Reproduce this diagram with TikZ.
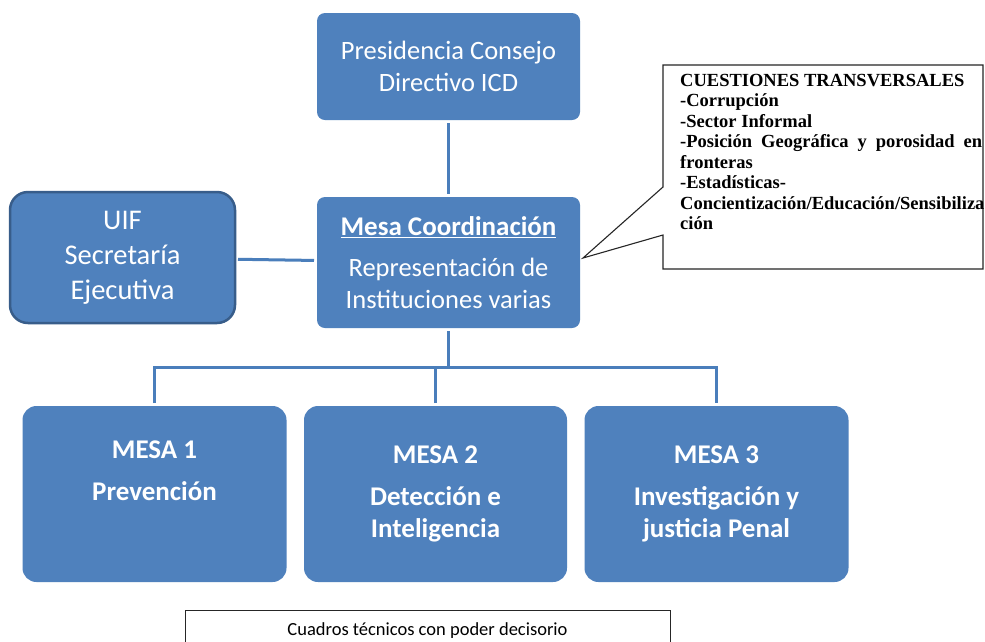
\documentclass[tikz,border=0pt]{standalone}
\usepackage{fontspec}
\setmainfont{Carlito}
\newfontfamily\calloutfont{Liberation Serif}
\usetikzlibrary{positioning}
\definecolor{boxblue}{HTML}{4F81BD}
\definecolor{lineblue}{HTML}{4A7EBB}
\definecolor{edgeblue}{HTML}{385D8A}

\begin{document}
\begin{tikzpicture}[x=1pt, y=-1pt,
  bluebox/.style={fill=boxblue, text=white, rounded corners=8pt, align=center, inner sep=0pt, outer sep=3pt},
  mesabox/.style={bluebox, rounded corners=14pt, minimum width=264pt, minimum height=176pt},
  mesatext/.style={text=white, align=center, inner sep=0pt, font=\bfseries\fontsize{27}{32}\selectfont},
  conn/.style={draw=lineblue, line width=3pt},
  font=\fontsize{26.5}{32}\selectfont]
\clip (0,0) rectangle (985,641);
\fill[white] (0,0) rectangle (985,641);
% top of the chart
\node[bluebox, minimum width=263pt, minimum height=107pt] (pres) at (448.5,66.5) {Presidencia Consejo\\Directivo ICD};
\node[bluebox, minimum width=263pt, minimum height=131pt] (coord) at (448.5,262.5)
  {\textbf{\fontsize{27}{32}\selectfont\underline{Mesa Coordinación}}\\[9pt]Representación de\\Instituciones varias};
\node[bluebox, draw=edgeblue, line width=2.5pt, rounded corners=18pt, minimum width=225pt, minimum height=131pt,
  font=\fontsize{28.5}{35}\selectfont] (uif) at (122.5,257.5) {UIF\\Secretaría\\Ejecutiva};
% the three tables
\node[mesabox] (mesa1) at (154.5,494) {};
\node[mesabox, minimum width=263pt] (mesa2) at (435.5,494) {};
\node[mesabox] (mesa3) at (716.5,494) {};
\node[mesatext, anchor=north] (m1lbl) at ([yshift=-38pt]mesa1.north) {MESA 1\\[10pt]Prevención};
\node[mesatext, anchor=north] (m2lbl) at ([yshift=-43pt]mesa2.north) {MESA 2\\[10pt]Detección e\\Inteligencia};
\node[mesatext, anchor=north] (m3lbl) at ([yshift=-43pt]mesa3.north) {MESA 3\\[10pt]Investigación y\\justicia Penal};
% connectors
\draw[conn] (pres) -- (coord);
\draw[conn] (uif) -- (coord);
\path (coord.south) ++(0,36) coordinate (bus);
\draw[conn] (coord) -- (bus);
\draw[conn] (mesa1) |- (bus) -| (mesa3);
\draw[conn] (mesa2) -- (mesa2 |- bus);
% callout
\coordinate (tip) at (583,258);
\draw[black!85, line width=1.1pt] (663,65) -- (983,65) -- (983,269) -- (663,269) -- (663,235) -- (tip) -- (663,187) -- cycle;
\node[anchor=north west, inner sep=0pt, text width=302pt, align=justify,
  font=\calloutfont\bfseries\fontsize{18.5}{20.5}\selectfont] (trans) at (680,74)
  {CUESTIONES TRANSVERSALES\\-Corrupción\\-Sector Informal\\-Posición\hfill Geográfica\hfill y\hfill porosidad\hfill en\\fronteras\\-Estadísticas-\\Concientización/Educación/Sensibiliza\\ción};
% bottom note
\node[draw=black!85, line width=1pt, minimum width=485pt, minimum height=42pt, inner sep=0pt,
  font=\fontsize{18.5}{20}\selectfont] (cuadros) at (427.5,631) {Cuadros técnicos con poder decisorio};
\end{tikzpicture}
\end{document}
